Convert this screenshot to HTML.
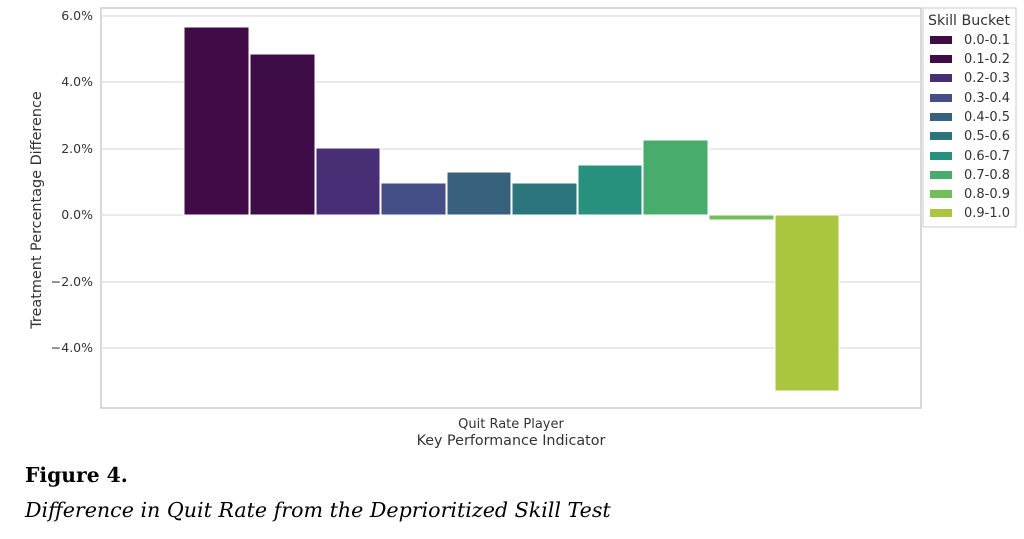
<!DOCTYPE html>
<html><head><meta charset="utf-8"><style>
body{margin:0;background:#fff;width:1024px;height:534px;overflow:hidden;font-family:"Liberation Sans",sans-serif}
</style></head><body>
<svg width="1024" height="534" xmlns="http://www.w3.org/2000/svg" font-family="DejaVu Sans, Liberation Sans, sans-serif">
<rect x="101" y="8" width="820" height="400" fill="#fff" stroke="#ccc" stroke-width="1.5"/>
<g stroke="#ddd" stroke-width="1.3">
<line x1="101" x2="921" y1="16" y2="16"/><line x1="101" x2="921" y1="82" y2="82"/>
<line x1="101" x2="921" y1="149" y2="149"/><line x1="101" x2="921" y1="215" y2="215"/>
<line x1="101" x2="921" y1="282" y2="282"/><line x1="101" x2="921" y1="348" y2="348"/>
</g>
<g font-size="12.5" fill="#333" text-anchor="end">
<text x="93" y="20">6.0%</text><text x="93" y="86">4.0%</text><text x="93" y="153">2.0%</text>
<text x="93" y="219">0.0%</text><text x="93" y="286">−2.0%</text><text x="93" y="352">−4.0%</text>
</g>
<text transform="translate(41,210) rotate(-90)" font-size="14.4" fill="#333" text-anchor="middle">Treatment Percentage Difference</text>
<g stroke="#fff" stroke-width="1">
<rect x="184" y="27" width="65" height="188" fill="#400b46"/>
<rect x="250" y="54" width="65" height="161" fill="#3e0c47"/>
<rect x="316" y="148" width="64" height="67" fill="#482e74"/>
<rect x="381" y="183" width="65" height="32" fill="#434f86"/>
<rect x="447" y="172" width="64" height="43" fill="#38617e"/>
<rect x="512" y="183" width="65" height="32" fill="#2d757d"/>
<rect x="578" y="165" width="64" height="50" fill="#27917d"/>
<rect x="643" y="140" width="65" height="75" fill="#48ad6c"/>
<rect x="709" y="215" width="65" height="5" fill="#72bf5a"/>
<rect x="775" y="215" width="64" height="176" fill="#a9c63e"/>
</g>
<text x="511" y="428" font-size="13" fill="#333" text-anchor="middle">Quit Rate Player</text>
<text x="511" y="445" font-size="14.3" fill="#333" text-anchor="middle">Key Performance Indicator</text>
<rect x="923" y="8" width="93" height="219" fill="#fff" stroke="#ccc"/>
<text x="969" y="25" font-size="14.2" fill="#333" text-anchor="middle">Skill Bucket</text>
<g font-size="13" fill="#333">
<rect x="930" y="36" width="22" height="8" fill="#400b46"/><text x="964" y="44">0.0-0.1</text>
<rect x="930" y="55" width="22" height="8" fill="#3e0c47"/><text x="964" y="63">0.1-0.2</text>
<rect x="930" y="74" width="22" height="8" fill="#482e74"/><text x="964" y="82">0.2-0.3</text>
<rect x="930" y="94" width="22" height="8" fill="#434f86"/><text x="964" y="102">0.3-0.4</text>
<rect x="930" y="113" width="22" height="8" fill="#38617e"/><text x="964" y="121">0.4-0.5</text>
<rect x="930" y="132" width="22" height="8" fill="#2d757d"/><text x="964" y="140">0.5-0.6</text>
<rect x="930" y="152" width="22" height="8" fill="#27917d"/><text x="964" y="160">0.6-0.7</text>
<rect x="930" y="171" width="22" height="8" fill="#48ad6c"/><text x="964" y="179">0.7-0.8</text>
<rect x="930" y="190" width="22" height="8" fill="#72bf5a"/><text x="964" y="198">0.8-0.9</text>
<rect x="930" y="209" width="22" height="8" fill="#a9c63e"/><text x="964" y="217">0.9-1.0</text>
</g>
<text x="25" y="482" font-family="DejaVu Serif, Liberation Serif, serif" font-weight="bold" font-size="20.3" fill="#000">Figure 4.</text>
<text x="25" y="517" font-family="DejaVu Serif, Liberation Serif, serif" font-style="italic" font-size="20.6" fill="#000">Difference in Quit Rate from the Deprioritized Skill Test</text>
</svg>
</body></html>
